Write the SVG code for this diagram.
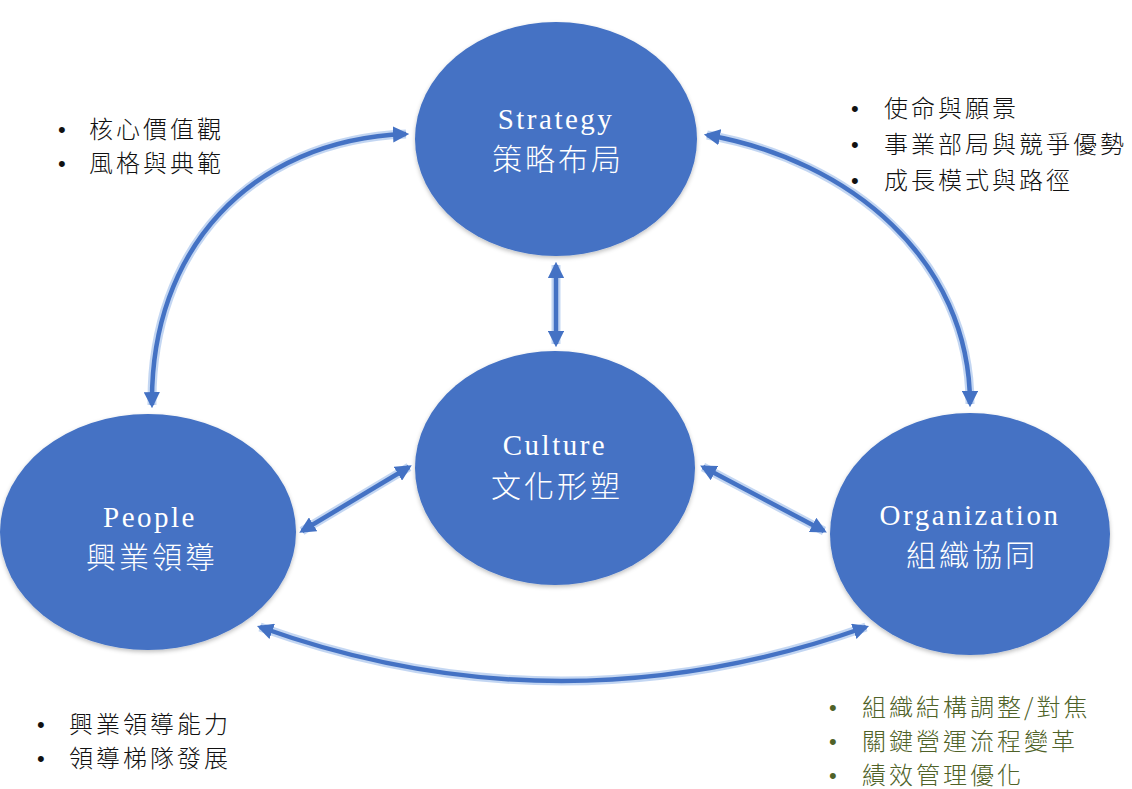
<svg xmlns="http://www.w3.org/2000/svg" width="1132" height="789" viewBox="0 0 1132 789">
<defs>
<style>
.node{fill:#4472c4;filter:url(#soft)}
.lat{font-family:"Liberation Serif",serif;font-size:29px;fill:#fff;text-anchor:middle;letter-spacing:2.5px}
.cjk{font-family:"Noto Sans CJK TC",sans-serif;font-size:30px;fill:#fff;text-anchor:middle;letter-spacing:3px;font-weight:300}
.glow{fill:none;stroke:#a9c4ec;stroke-width:9;stroke-opacity:0.7}
.ln{fill:none;stroke:#4472c4;stroke-width:4.5;marker-start:url(#ah);marker-end:url(#ah)}
.bl{font-family:"Noto Sans CJK TC",sans-serif;font-size:24px;fill:#111;letter-spacing:3px;font-weight:300}
.dot{font-family:"Liberation Sans",sans-serif;font-size:22px;fill:#111}
.gr{fill:#4f6228}
</style>
<filter id="soft" x="-10%" y="-10%" width="120%" height="120%">
<feGaussianBlur in="SourceAlpha" stdDeviation="2"/>
<feOffset dx="0" dy="2" result="b"/>
<feFlood flood-color="#000" flood-opacity="0.25"/>
<feComposite in2="b" operator="in"/>
<feMerge><feMergeNode/><feMergeNode in="SourceGraphic"/></feMerge>
</filter>
<marker id="ah" viewBox="0 0 10 10" refX="8" refY="5" markerWidth="3.6" markerHeight="3.6" orient="auto-start-reverse" markerUnits="strokeWidth">
<path d="M0,0 L10,5 L0,10 z" fill="#4472c4"/>
</marker>
</defs>
<rect width="1132" height="789" fill="#fff"/>
<g id="connectors">
<path class="glow" d="M152,405 C150,250 250,140 406,134"/>
<path class="ln" d="M152,405 C150,250 250,140 406,134"/>
<path class="glow" d="M707,135 C850,160 970,260 970,404"/>
<path class="ln" d="M707,135 C850,160 970,260 970,404"/>
<path class="glow" d="M556,265 L556,344"/>
<path class="ln" d="M556,265 L556,344"/>
<path class="glow" d="M302,531 L409,467"/>
<path class="ln" d="M302,531 L409,467"/>
<path class="glow" d="M703,467 L824,531"/>
<path class="ln" d="M703,467 L824,531"/>
<path class="glow" d="M260,627 Q560,735 866,627"/>
<path class="ln" d="M260,627 Q560,735 866,627"/>
</g>
<g id="strategy">
<ellipse class="node" cx="556" cy="139" rx="141" ry="117"/>
<text class="lat" x="556" y="129">Strategy</text>
<text class="cjk" x="558" y="170">策略布局</text>
</g>
<g id="culture">
<ellipse class="node" cx="555" cy="468" rx="140" ry="117"/>
<text class="lat" x="555" y="455">Culture</text>
<text class="cjk" x="557" y="497">文化形塑</text>
</g>
<g id="people">
<ellipse class="node" cx="148" cy="532" rx="148" ry="118"/>
<text class="lat" x="150" y="527">People</text>
<text class="cjk" x="152" y="568">興業領導</text>
</g>
<g id="organization">
<ellipse class="node" cx="970" cy="534" rx="140" ry="121"/>
<text class="lat" x="970" y="525">Organization</text>
<text class="cjk" x="972" y="566">組織協同</text>
</g>
<g id="notes-culture">
<text class="dot" x="58" y="137">•</text><text class="bl" x="89" y="138">核心價值觀</text>
<text class="dot" x="58" y="171">•</text><text class="bl" x="89" y="172">風格與典範</text>
</g>
<g id="notes-strategy">
<text class="dot" x="851" y="116">•</text><text class="bl" x="884" y="117">使命與願景</text>
<text class="dot" x="851" y="152">•</text><text class="bl" x="884" y="153">事業部局與競爭優勢</text>
<text class="dot" x="851" y="188">•</text><text class="bl" x="884" y="189">成長模式與路徑</text>
</g>
<g id="notes-people">
<text class="dot" x="37" y="732">•</text><text class="bl" x="69" y="733">興業領導能力</text>
<text class="dot" x="37" y="766">•</text><text class="bl" x="69" y="767">領導梯隊發展</text>
</g>
<g id="notes-organization">
<text class="dot gr" x="829" y="715">•</text><text class="bl gr" x="862" y="716">組織結構調整/對焦</text>
<text class="dot gr" x="829" y="749">•</text><text class="bl gr" x="862" y="750">關鍵營運流程變革</text>
<text class="dot gr" x="829" y="783">•</text><text class="bl gr" x="862" y="784">績效管理優化</text>
</g>
</svg>
